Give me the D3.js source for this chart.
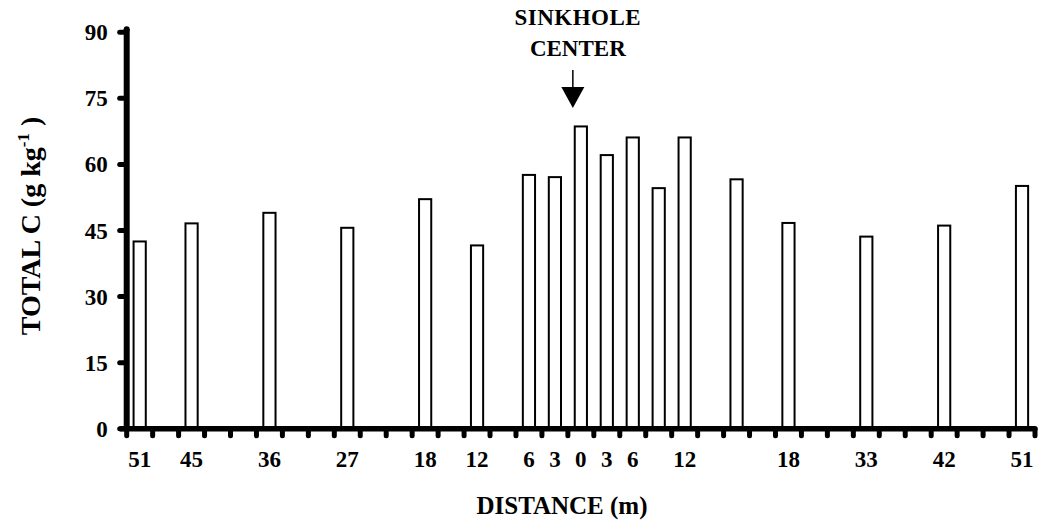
<!DOCTYPE html>
<html>
<head>
<meta charset="utf-8">
<script src="https://cdn.jsdelivr.net/npm/d3@7"></script>
<style>
  html, body { margin: 0; padding: 0; background: #fff; }
  svg { display: block; }
  text { font-family: "Liberation Serif", "Times New Roman", serif; font-weight: bold; fill: #000; }
</style>
</head>
<body>
<svg id="chart" width="1040" height="521"></svg>
<script>
// 35 equally spaced distance slots along the transect (m); blank = unlabeled slot
const distanceLabels = ["51","","45","","","36","","","27","","","18","","12","","6","3","0","3","6","","12","","","","18","","","33","","","42","","","51"];
// Total C (g kg-1) per slot; null = no sample in that slot
const totalC = [42.4,null,46.5,null,null,48.9,null,null,45.5,null,null,52.0,null,41.5,null,57.5,57.0,68.5,62.0,66.0,54.5,66.0,null,56.5,null,46.6,null,null,43.5,null,null,46.0,null,null,55.0];
const yTicks = [0,15,30,45,60,75,90];
const centerIndex = 17;

const svg = d3.select("#chart");
const plotLeft = 126.7, plotRight = 1035, plotTop = 31.7, plotBottom = 428.3;
const slots = distanceLabels.map((d, i) => i);

const x = d3.scaleBand().domain(slots).range([plotLeft, plotRight]).paddingInner(0.53).paddingOuter(0.265);
const y = d3.scaleLinear().domain([0, 90]).range([plotBottom, plotTop]);
const step = x.step();

// bars
const data = slots.filter(i => totalC[i] !== null).map(i => ({ i, v: totalC[i] }));
svg.append("g").selectAll("rect").data(data).join("rect")
  .attr("x", d => x(d.i))
  .attr("y", d => y(d.v))
  .attr("width", x.bandwidth())
  .attr("height", d => y(0) - y(d.v))
  .attr("fill", "#fff")
  .attr("stroke", "#000")
  .attr("stroke-width", 2);

// y axis
const yAxis = d3.axisLeft(y).tickValues(yTicks).tickSize(8).tickPadding(10);
const gy = svg.append("g").attr("transform", `translate(${plotLeft},0)`).call(yAxis);
gy.select(".domain").remove();
gy.selectAll(".tick line").attr("stroke", "#000").attr("stroke-width", 5).attr("stroke-linecap", "round")
  .attr("x1", -1).attr("x2", -7);
gy.selectAll(".tick text").style("font-size", "23px").attr("dy", "0.35em").attr("x", -19)
  .style("font-family", "'Liberation Serif', 'Times New Roman', serif").style("font-weight", "bold");

// x ticks at slot boundaries
const boundaries = d3.range(slots.length + 1).map(k => plotLeft + k * step);
svg.append("g").selectAll("line").data(boundaries).join("line")
  .attr("x1", d => d).attr("x2", d => d)
  .attr("y1", plotBottom + 1).attr("y2", plotBottom + 7.5)
  .attr("stroke", "#000").attr("stroke-width", 5).attr("stroke-linecap", "round");

// x labels
svg.append("g").selectAll("text").data(slots.filter(i => distanceLabels[i] !== "")).join("text")
  .attr("x", i => x(i) + x.bandwidth() / 2)
  .attr("y", 467)
  .attr("text-anchor", "middle")
  .style("font-size", "23px")
  .text(i => distanceLabels[i]);

// axis lines
svg.append("line").attr("x1", plotLeft).attr("x2", plotLeft).attr("y1", plotTop - 2.5).attr("y2", plotBottom + 2)
  .attr("stroke", "#000").attr("stroke-width", 6);
svg.append("line").attr("x1", plotLeft - 7).attr("x2", plotRight).attr("y1", plotBottom + 0.5).attr("y2", plotBottom + 0.5)
  .attr("stroke", "#000").attr("stroke-width", 5.5);
svg.append("circle").attr("cx", plotLeft).attr("cy", plotTop - 2.5).attr("r", 3).attr("fill", "#000");
svg.append("circle").attr("cx", plotRight).attr("cy", plotBottom + 0.5).attr("r", 2.7).attr("fill", "#000");

// axis titles
svg.append("text")
  .attr("x", 562).attr("y", 514)
  .attr("text-anchor", "middle")
  .style("font-size", "25px")
  .text("DISTANCE (m)");

const yt = svg.append("text")
  .attr("transform", "translate(40,226) rotate(-90)")
  .attr("text-anchor", "middle")
  .style("font-size", "28px");
yt.append("tspan").text("TOTAL C (g kg");
yt.append("tspan").attr("dy", -11).style("font-size", "17px").text("-1");
yt.append("tspan").attr("dy", 11).text(" )");

// annotation
const ax = x(centerIndex) + x.bandwidth() / 2 - 8;
svg.append("text").attr("x", ax + 5).attr("y", 25).attr("text-anchor", "middle")
  .style("font-size", "23px").style("letter-spacing", "0.5px").text("SINKHOLE");
svg.append("text").attr("x", ax + 5).attr("y", 56).attr("text-anchor", "middle")
  .style("font-size", "23px").text("CENTER");
svg.append("line").attr("x1", ax).attr("x2", ax).attr("y1", 70).attr("y2", 90)
  .attr("stroke", "#000").attr("stroke-width", 1.5);
svg.append("path").attr("d", `M${ax - 11.5},87 L${ax + 11.5},87 L${ax},108 Z`).attr("fill", "#000");
</script>
</body>
</html>
